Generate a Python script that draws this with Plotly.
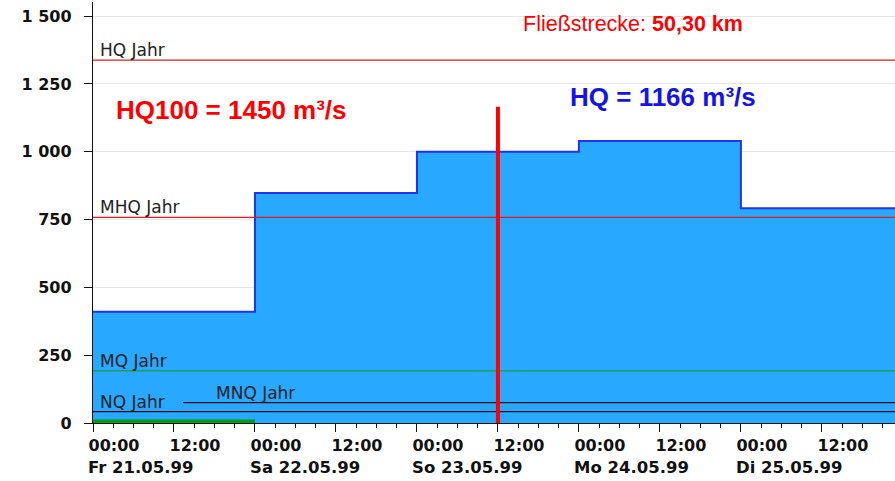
import plotly.graph_objects as go

# ---- data ----
step_times = ["1999-05-21 00:00", "1999-05-22 00:00", "1999-05-23 00:00",
              "1999-05-24 00:00", "1999-05-25 00:00", "1999-05-26 00:00"]
step_flows = [410, 848, 1000, 1040, 792, 792]

green_times = ["1999-05-21 00:00", "1999-05-22 00:00"]
green_vals = [6, 6]

ref_names = ["HQ Jahr", "MHQ Jahr", "MQ Jahr", "MNQ Jahr", "NQ Jahr"]
ref_values = [1338, 758, 192, 75, 42]
ref_starts = ["1999-05-21 00:00", "1999-05-21 00:00", "1999-05-21 00:00",
              "1999-05-21 13:20", "1999-05-21 00:00"]
ref_label_x = ["1999-05-21 00:00", "1999-05-21 00:00", "1999-05-21 00:00",
               "1999-05-21 17:15", "1999-05-21 00:00"]
ref_end = "1999-05-26 00:00"

hq_time = "1999-05-23 12:00"
hq_value = 1166

date_labels = ["Fr 21.05.99", "Sa 22.05.99", "So 23.05.99", "Mo 24.05.99", "Di 25.05.99"]
date_pos = ["1999-05-21", "1999-05-22", "1999-05-23", "1999-05-24", "1999-05-25"]

y_tickvals = [0, 250, 500, 750, 1000, 1250, 1500]
y_ticktext = ["0", "250", "500", "750", "1 000", "1 250", "1 500"]

# ---- styles ----
ref_colors = ["#e41a1a", "#e41a1a", "#1f9a3a", "#111111", "#111111"]

fig = go.Figure()

fig.add_trace(go.Scatter(
    x=step_times, y=step_flows, mode="lines", line_shape="hv",
    fill="tozeroy", fillcolor="#29a8ff",
    line=dict(color="#2233ee", width=2), hoverinfo="skip", showlegend=False))

for name, val, x0, col in zip(ref_names, ref_values, ref_starts, ref_colors):
    fig.add_trace(go.Scatter(
        x=[x0, ref_end], y=[val, val], mode="lines",
        line=dict(color=col, width=1.3), hoverinfo="skip", showlegend=False))

fig.add_trace(go.Scatter(
    x=green_times, y=green_vals, mode="lines",
    line=dict(color="#0a9a10", width=3.5), hoverinfo="skip", showlegend=False))

fig.add_trace(go.Scatter(
    x=[hq_time, hq_time], y=[-30, hq_value], mode="lines",
    line=dict(color="#ff0000", width=4), hoverinfo="skip", showlegend=False))

label_font = dict(family="DejaVu Sans, sans-serif", size=17, color="#222222")
for name, val, lx in zip(ref_names, ref_values, ref_label_x):
    fig.add_annotation(x=lx, y=val, xref="x", yref="y", text=name,
                       showarrow=False, xanchor="left", yanchor="bottom",
                       xshift=5, yshift=-2, font=label_font)

tick_font = dict(family="DejaVu Sans, sans-serif", size=16, color="#111111", weight="bold")
date_font = dict(family="DejaVu Sans, sans-serif", size=16.5, color="#111111", weight="bold")
for lbl, pos in zip(date_labels, date_pos):
    fig.add_annotation(x=pos, y=0, xref="x", yref="paper", text=lbl,
                       showarrow=False, xanchor="left", yanchor="middle",
                       xshift=-7, yshift=-44, font=date_font)

fig.add_annotation(x=0.026, y=0.743, xref="paper", yref="paper",
                   text="HQ100 = 1450 m³/s", showarrow=False,
                   xanchor="left", yanchor="middle",
                   font=dict(family="Liberation Sans Narrow, Arial Narrow, Liberation Sans, sans-serif",
                             size=26, color="#ff0000", weight="bold"))
fig.add_annotation(x=0.592, y=0.774, xref="paper", yref="paper",
                   text="HQ = 1166 m³/s", showarrow=False,
                   xanchor="left", yanchor="middle",
                   font=dict(family="Liberation Sans Narrow, Arial Narrow, Liberation Sans, sans-serif",
                             size=26, color="#1414e6", weight="bold"))
fig.add_annotation(x=0.534, y=0.948, xref="paper", yref="paper",
                   text="Fließstrecke: <b>50,30 km</b>", showarrow=False,
                   xanchor="left", yanchor="middle",
                   font=dict(family="Liberation Sans, Arial, sans-serif",
                             size=21.5, color="#ff0000"))

fig.update_layout(
    width=895, height=481,
    margin=dict(l=93, r=0, t=2, b=58),
    paper_bgcolor="white", plot_bgcolor="white",
    showlegend=False,
    xaxis=dict(
        type="date",
        range=["1999-05-21 00:00", "1999-05-25 22:50"],
        tickmode="linear", tick0="1999-05-21 00:00", dtick=43200000,
        tickformat="%H:%M", ticks="outside", ticklen=8, tickwidth=1.3,
        tickcolor="#111111", showgrid=False, zeroline=False,
        showline=True, linecolor="#111111", linewidth=1.3,
        tickfont=tick_font, ticklabelshift=21,
        minor=dict(dtick=10800000, tick0="1999-05-21 00:00", ticks="outside",
                   ticklen=4, tickcolor="#111111", showgrid=False),
    ),
    yaxis=dict(
        range=[0, 1552],
        tickvals=y_tickvals, ticktext=y_ticktext,
        ticks="outside", ticklen=8, tickwidth=1.3, tickcolor="#111111",
        showgrid=True, gridcolor="#e6e6e6", gridwidth=1,
        zeroline=False, showline=True, linecolor="#111111", linewidth=1.3,
        tickfont=tick_font, ticklabelstandoff=9,
    ),
)

fig.write_html("out.html", config={"displayModeBar": False},
               post_script="document.body.style.margin='0';")
